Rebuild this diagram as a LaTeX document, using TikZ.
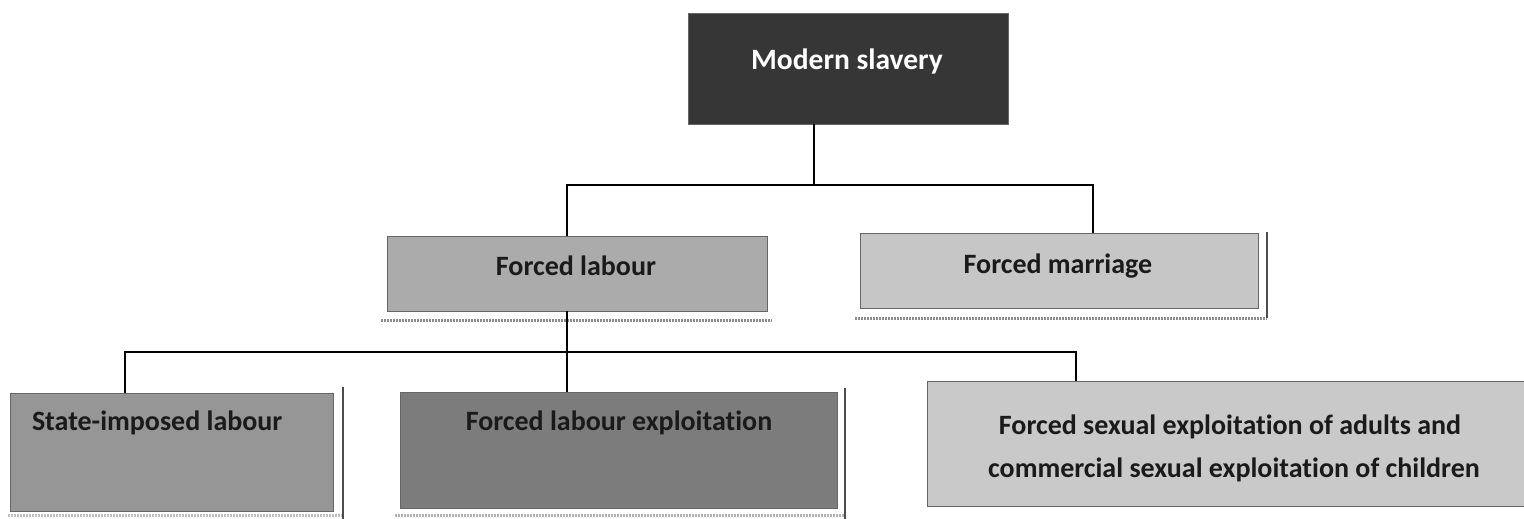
\documentclass[tikz,border=0pt]{standalone}
\usepackage{fontspec}
\setmainfont{Carlito}[Ligatures=NoCommon]
\definecolor{msfill}{HTML}{363636}
\definecolor{flfill}{HTML}{ABABAB}
\definecolor{fmfill}{HTML}{C6C6C6}
\definecolor{sifill}{HTML}{969696}
\definecolor{flefill}{HTML}{7C7C7C}
\definecolor{fsefill}{HTML}{C9C9C9}
\definecolor{inkdark}{HTML}{1A1A1A}
\tikzset{
  box/.style={draw=black!60, line width=0.8pt, inner sep=0pt, outer sep=0pt},
  conn/.style={draw=black, line width=2.2pt},
  shade line/.style={draw=black!45, line width=3pt, dash pattern=on 2pt off 1pt},
  edge line/.style={draw=black!70, line width=1.6pt},
  lbl/.style={inner sep=0pt, outer sep=0pt, anchor=base, text=inkdark,
              font=\fontsize{28}{44}\selectfont\bfseries},
  lblw/.style={lbl, text=white, font=\fontsize{29.5}{44}\selectfont\bfseries}
}
\begin{document}
\begin{tikzpicture}[x=1pt, y=-1pt]
\useasboundingbox[fill=white] (0,0) rectangle (1524,519);

% boxes
\node[box, fill=msfill, minimum width=320pt, minimum height=111pt] (ms) at (848,68.5) {};
\node[box, fill=flfill, minimum width=380pt, minimum height=75pt] (fl) at (577,273.5) {};
\node[box, fill=fmfill, minimum width=398pt, minimum height=75pt] (fm) at (1059,270.5) {};
\node[box, fill=sifill, minimum width=323pt, minimum height=118pt] (si) at (171.5,452) {};
\node[box, fill=flefill, minimum width=437pt, minimum height=116pt] (fle) at (618.5,450) {};
\node[box, fill=fsefill, minimum width=613pt, minimum height=125pt] (fse) at (1233.5,443.5) {};

% shadow strips and edge lines
\coordinate (flsA) at (381,320);  \coordinate (flsB) at (772,320);
\draw[shade line] (flsA) -- (flsB);
\coordinate (fmsA) at (855,318);  \coordinate (fmsB) at (1267,318);
\coordinate (fmeT) at (1267,232);
\draw[shade line] (fmsA) -- (fmsB);
\draw[edge line] (fmeT) -- (fmsB);
\coordinate (sisA) at (8,515);  \coordinate (sisB) at (343,515);
\coordinate (sieT) at (343,387); \coordinate (sieB) at (343,519);
\draw[shade line, draw=black!25] (sisA) -- (sisB);
\draw[edge line] (sieT) -- (sieB);
\coordinate (flesA) at (395,515); \coordinate (flesB) at (845,515);
\coordinate (fleeT) at (845,388); \coordinate (fleeB) at (845,519);
\draw[shade line, draw=black!30] (flesA) -- (flesB);
\draw[edge line] (fleeT) -- (fleeB);

% connectors, upper level
\coordinate (busA) at (814,185);
\coordinate (busAl) at (567,185);
\coordinate (busAr) at (1093,185);
\draw[conn] (ms.south -| busA) -- (busA);
\draw[conn] (fl.north -| busAl) -- (busAl) -- (busAr) -- (fm.north -| busAr);

% connectors, lower level
\coordinate (busB) at (567,352);
\coordinate (busBl) at (125,352);
\coordinate (busBr) at (1076,352);
\draw[conn] (fl.south -| busB) -- (fle.north -| busB);
\draw[conn] (si.north -| busBl) -- (busBl) -- (busBr) -- (fse.north -| busBr);

% labels
\node[lblw] (tms) at (847,70) {Modern slavery};
\node[lbl] (tfl) at (576,275) {Forced labour};
\node[lbl] (tfm) at (1058,273) {Forced marriage};
\node[lbl, anchor=base west] (tsi) at (32,430) {State-imposed labour};
\node[lbl] (tfle) at (619,430) {Forced labour exploitation};
\node[lbl] (tfse1) at (1230,434) {Forced sexual exploitation of adults and};
\node[lbl] (tfse2) at (1234,477) {commercial sexual exploitation of children};
\end{tikzpicture}
\end{document}
